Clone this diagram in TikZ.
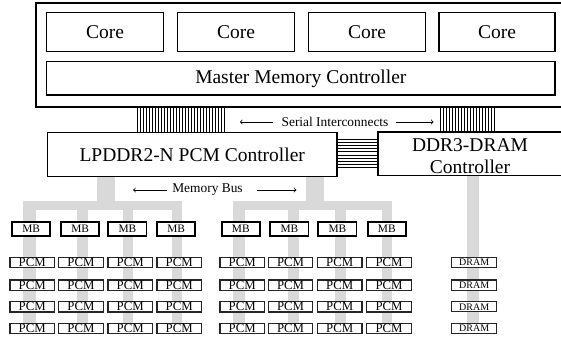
\documentclass[tikz,border=0pt]{standalone}
\usepackage{fontspec}
\setmainfont{Liberation Serif}
\newcommand\rbox[7]{\node[#1, minimum width={(#5)-(#3)}, minimum height={(#6)-(#4)}] (#2) at ({((#3)+(#5))/2},{((#4)+(#6))/2}) {#7};}
\begin{document}
\begin{tikzpicture}[x=1pt,y=-1pt,
  box/.style={draw, line width=1.3pt, fill=white, inner sep=0pt, outer sep=0pt},
  mbbox/.style={draw, line width=1.7pt, fill=white, inner sep=0pt, outer sep=0pt, font=\fontsize{11.4}{12}\selectfont},
  pcmbox/.style={draw=black!85, line width=1.2pt, fill=white, inner sep=0pt, outer sep=0pt, font=\fontsize{12.8}{13}\selectfont},
  drambox/.style={draw=black!85, line width=1.1pt, fill=white, inner sep=0pt, outer sep=0pt, font=\fontsize{10}{11}\selectfont},
  bigtxt/.style={font=\fontsize{19.5}{21.5}\selectfont},
  smalltxt/.style={font=\fontsize{13.4}{14}\selectfont, inner sep=0pt},
  busgray/.style={fill=black!15},
  stripe/.style={line width=0.65pt},
  arr/.style={->, line width=0.8pt}
]
\useasboundingbox (0,0) rectangle (561,339);

% gray memory buses
\fill[busgray] (96.7,176) rectangle (115,210);
\fill[busgray] (22.7,200.5) rectangle (181.7,210);
\foreach \a/\b in {22.7/36, 77/87.5, 122.7/133, 171.5/181.7}
  \fill[busgray] (\a,205) rectangle (\b,333);
\fill[busgray] (306,176) rectangle (324,210);
\fill[busgray] (232.7,200.5) rectangle (391.7,210);
\foreach \a/\b in {232.7/245, 288/298.5, 335/345.5, 381.5/391.7}
  \fill[busgray] (\a,205) rectangle (\b,333);
\fill[busgray] (466.7,175) rectangle (479.3,333);

% serial interconnect stripes
\foreach \i in {0,...,29}
  \draw[stripe] (137.5+3*\i,107) -- (137.5+3*\i,132.5);
\foreach \i in {0,...,18}
  \draw[stripe] (440+3*\i,107) -- (440+3*\i,132);
\foreach \i in {0,...,9}
  \draw[stripe] (337,139+3.2*\i) -- (378,139+3.2*\i);

% processor chip
\rbox{box, line width=1.5pt}{chip}{36}{3}{562}{107}{}
\rbox{box, bigtxt}{core1}{46.7}{12.7}{163.5}{51.7}{Core}
\rbox{box, bigtxt}{core2}{177.5}{12.7}{294.5}{51.7}{Core}
\rbox{box, bigtxt}{core3}{308.5}{12.7}{425.5}{51.7}{Core}
\rbox{box, bigtxt}{core4}{439}{12.7}{555}{51.7}{Core}
\rbox{box, bigtxt}{mmc}{46.7}{61.7}{555}{95}{Master Memory Controller}

% controllers
\rbox{box, bigtxt}{lpddr}{47.5}{132.5}{337}{176.5}{LPDDR2-N PCM Controller}
\rbox{box}{ddr}{378}{132}{562}{175.5}{}
\node[bigtxt, align=center, inner sep=0pt] (ddrtxt) at (470,156) {DDR3-DRAM\\Controller};

% labels
\node[smalltxt] (serial) at (335,122) {Serial Interconnects};
\draw[arr] ([xshift=-8.5pt]serial.west) -- ++(-33,0);
\draw[arr] ([xshift=7pt]serial.east) -- ++(38,0);
\node[smalltxt] (membus) at (207.5,190) {Memory Bus};
\draw[arr] ([xshift=-5pt]membus.west) -- ++(-34,0);
\draw[arr] ([xshift=14.5pt]membus.east) -- ++(39,0);

% memory buffers
\foreach \l [count=\c] in {12,61,108.3,157,221.7,270.3,318.3,367.7}{
  \rbox{mbbox}{mb\c}{\l}{221.7}{\l+38.3}{236}{MB}
}

% PCM chips
\foreach \t [count=\r] in {257.5,280,301.7,323.3}{
  \foreach \l [count=\c] in {10,58.7,108,157,220,268.3,317.5,366.8}{
    \rbox{pcmbox}{pcm\r-\c}{\l}{\t}{\l+44.5}{\t+10.2}{PCM}
  }
  \rbox{drambox}{dram\r}{451.7}{\t}{496.7}{\t+10.2}{DRAM}
}
\end{tikzpicture}
\end{document}
